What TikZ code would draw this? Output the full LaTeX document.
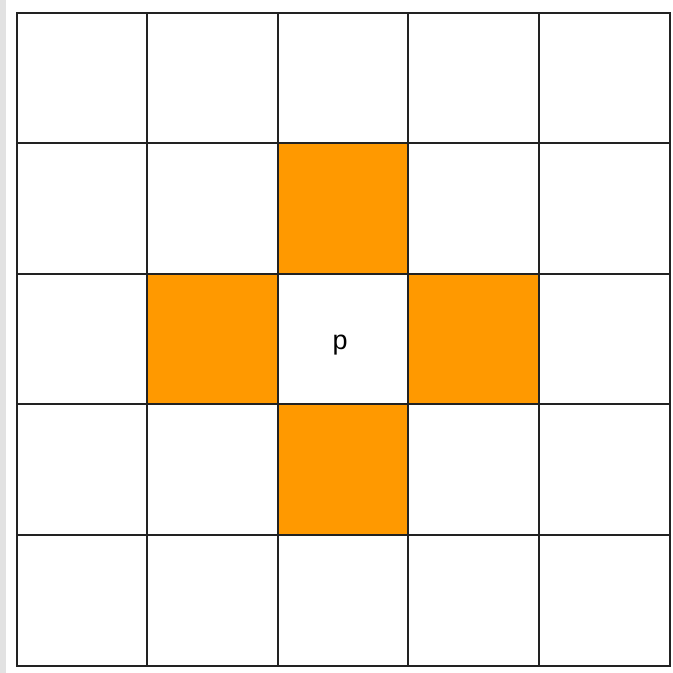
\documentclass[tikz,border=0pt]{standalone}
\usepackage{fontspec}
\setmainfont{Liberation Sans}
\usepackage{xcolor}
\usepackage{tikz}
\usetikzlibrary{positioning}

\definecolor{nborange}{HTML}{FF9900}
\definecolor{gridline}{HTML}{222222}
\definecolor{stripgray}{HTML}{E2E2E2}

\begin{document}
\begin{tikzpicture}[
    x=1pt, y=-1pt,
    cell/.style={fill=white, minimum size=130.5pt, inner sep=0pt,
                 font=\fontsize{27}{29}\selectfont},
    nbcell/.style={cell, fill=nborange},
    gridrule/.style={draw=gridline, line width=2.2pt, line cap=rect}
]
\useasboundingbox (0,0) rectangle (673,673);
\fill[white] (0,0) rectangle (673,673);
\fill[stripgray] (0,0) rectangle (6,673);

% 5x5 grid of pixels
\foreach \r in {1,...,5} {
  \foreach \c in {1,...,5} {
    \node[cell] (c-\r-\c) at ({17+130.5*(\c-0.5)},{13+130.5*(\r-0.5)}) {};
  }
}

% 4-neighbours of p
\node[nbcell] at (c-2-3) {};
\node[nbcell] at (c-3-2) {};
\node[nbcell] at (c-3-4) {};
\node[nbcell] at (c-4-3) {};
\node[cell, fill=none] (p) at ([xshift=-3pt, yshift=-6pt]c-3-3) {p};

% grid lines
\foreach \i in {1,...,5} {
  \draw[gridrule] (c-1-\i.north west) -- (c-5-\i.south west);
  \draw[gridrule] (c-\i-1.north west) -- (c-\i-5.north east);
}
\draw[gridrule] (c-1-5.north east) -- (c-5-5.south east);
\draw[gridrule] (c-5-1.south west) -- (c-5-5.south east);
\end{tikzpicture}
\end{document}
